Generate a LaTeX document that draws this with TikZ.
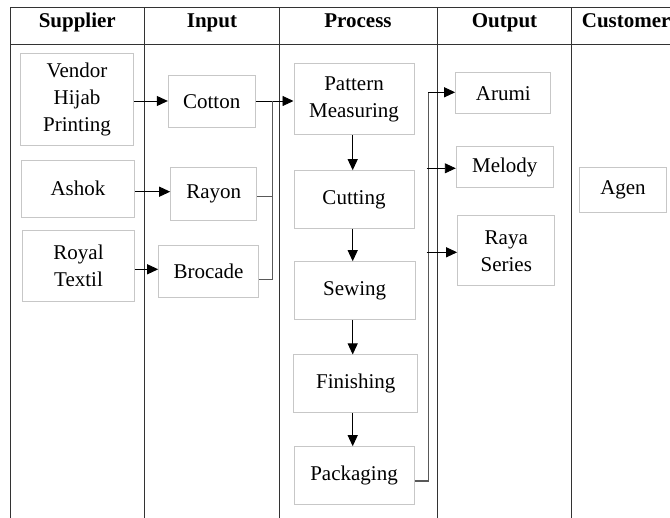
\documentclass[tikz,border=0pt]{standalone}
\usepackage{fontspec}
\setmainfont{Liberation Serif}
\usetikzlibrary{arrows.meta}
\begin{document}
\begin{tikzpicture}[x=1pt,y=-1pt,
  grid/.style={draw=black!80, line width=1pt},
  hdr/.style={font=\fontsize{21}{26}\selectfont\bfseries, anchor=base, inner sep=0pt},
  bx/.style={draw=black!22, line width=1pt, align=center, inner sep=0pt,
     font=\fontsize{21}{27}\selectfont},
  conn/.style={draw=black, line width=0.9pt},
  brk/.style={draw=black!65, line width=1.4pt},
  arr/.style={conn, -{Triangle[length=11pt,width=10pt]}}]
\useasboundingbox (0,0) rectangle (670,518);
% grid
\draw[grid] (10,7.3) -- (670,7.3);
\draw[grid] (10,45) -- (670,45);
\foreach \xx in {10,144.7,279,437.3,571.7} \draw[grid] (\xx,7.3) -- (\xx,518);
% headers
\node[hdr] (hsup) at (77.3,27.5) {Supplier};
\node[hdr] (hin) at (212,27.5) {Input};
\node[hdr] (hpro) at (358,27.5) {Process};
\node[hdr] (hout) at (504.5,27.5) {Output};
\node[hdr, anchor=base west] (hcus) at (581.7,27.5) {Customer};
% supplier
\node[bx, minimum width=112.6, minimum height=92.4] (vendor) at (77,99.5) {Vendor\\Hijab\\Printing};
\node[bx, minimum width=112.6, minimum height=57.3] (ashok) at (78,188.7) {Ashok};
\node[bx, minimum width=111.6, minimum height=70.7] (royal) at (78.5,266.3) {Royal\\Textil};
% input
\node[bx, minimum width=86.7, minimum height=52.3] (cotton) at (211.7,101.2) {Cotton};
\node[bx, minimum width=86, minimum height=52.7] (rayon) at (213.7,193.7) {Rayon};
\node[bx, minimum width=99.6, minimum height=52.3] (brocade) at (208.5,271.2) {Brocade};
% process
\node[bx, minimum width=120, minimum height=71] (pattern) at (354,99.5) {Pattern\\Measuring};
\node[bx, minimum width=120, minimum height=57.6] (cutting) at (354,199.5) {Cutting};
\node[bx, minimum width=121.3, minimum height=57.6] (sewing) at (354.7,290.5) {Sewing};
\node[bx, minimum width=123.7, minimum height=57.7] (finishing) at (355.8,383.8) {Finishing};
\node[bx, minimum width=120, minimum height=57.6] (packaging) at (354,475.5) {Packaging};
% output
\node[bx, minimum width=95.3, minimum height=41.3] (arumi) at (503.3,93.3) {Arumi};
\node[bx, minimum width=97, minimum height=41] (melody) at (504.8,167.2) {Melody};
\node[bx, minimum width=97.3, minimum height=70.3] (raya) at (506.3,250.8) {Raya\\Series};
% customer
\node[bx, minimum width=87.4, minimum height=45] (agen) at (623,189.8) {Agen};
% supplier -> input
\draw[arr] (vendor.east |- 0,101) -- (cotton.west |- 0,101);
\draw[arr] (ashok.east |- 0,191.7) -- (rayon.west |- 0,191.7);
\draw[arr] (royal.east |- 0,269.3) -- (brocade.west |- 0,269.3);
% input -> process
\coordinate (jtop) at (272.5,101.5);
\coordinate (jray) at (272.5,196.7);
\coordinate (jbro) at (272.5,279.3);
\draw[arr] (cotton.east |- 0,101) -- (pattern.west |- 0,101);
\draw[brk] (rayon.east |- jray) -- (jray);
\draw[brk] (brocade.east |- jbro) -- (jbro);
\draw[brk] (jtop) -- (jbro);
% process chain
\draw[arr] (pattern.south -| 352.7,0) -- (cutting.north -| 352.7,0);
\draw[arr] (cutting.south -| 352.7,0) -- (sewing.north -| 352.7,0);
\draw[arr] (sewing.south -| 352.7,0) -- (finishing.north -| 352.7,0);
\draw[arr] (finishing.south -| 352.7,0) -- (packaging.north -| 352.7,0);
% process -> output
\coordinate (obot) at (428.3,481);
\coordinate (otop) at (428.3,92.3);
\coordinate (omel) at (426.7,168.3);
\coordinate (oray) at (426.7,252.3);
\draw[brk] (packaging.east |- obot) -- (obot) -- (otop);
\draw[arr] (otop) -- (arumi.west |- otop);
\draw[arr] (omel) -- (melody.west |- omel);
\draw[arr] (oray) -- (raya.west |- oray);
\end{tikzpicture}
\end{document}
